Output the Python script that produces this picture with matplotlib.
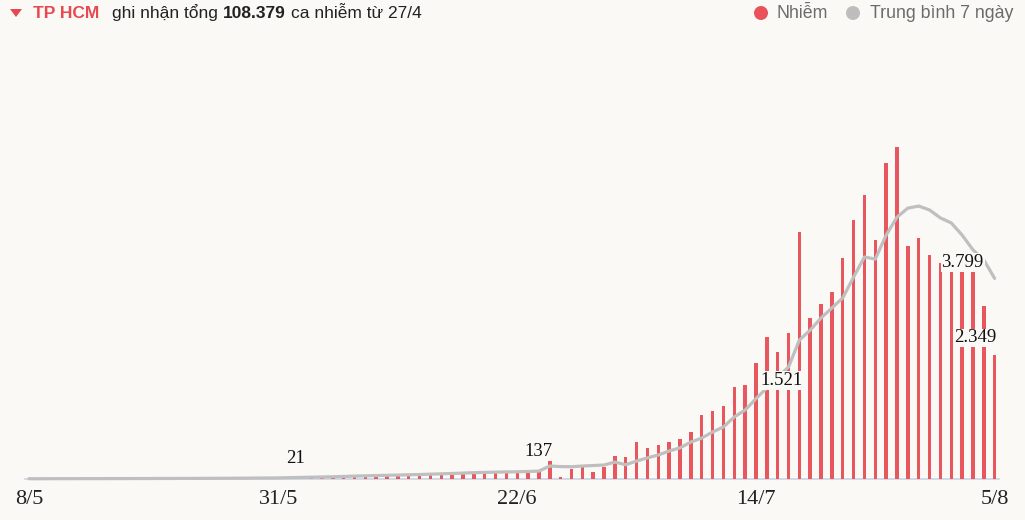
import matplotlib
matplotlib.use('Agg')
import matplotlib.pyplot as plt
from matplotlib.patches import Circle, Polygon

# ---------------- data ----------------
# daily new cases, 8/5 .. 5/8 (90 days)
cases = ([3, 2, 5, 4, 2, 6, 3, 5, 8, 4, 10, 7, 12, 9, 6, 14, 11, 16, 13, 20, 18, 22, 25]
         + [28, 24, 30, 27, 33, 36, 31, 40, 45, 38, 50, 55]
         + [60, 70, 78, 85, 90, 100, 105, 110, 112, 118, 120, 125, 130]
         + [700]
         + [40, 190, 230, 130, 230, 435, 415, 700, 590, 645, 700, 760, 890, 1210,
            1290, 1380, 1740, 1780]
         + [2197, 2690, 2405, 2765, 4678, 3050, 3315, 3540, 4185, 4905, 5380, 4525,
            5985, 6290, 4410, 4565, 4240, 4090, 3995, 4000, 4050, 3275, 2349])

# 7-day average
avg7 = ([5, 5, 6, 6, 6, 7, 7, 7, 8, 8, 9, 9, 10, 10, 11, 11, 12, 13, 14, 15, 16, 18, 19]
        + [21]
        + [26, 30, 34, 38, 42, 48]
        + [55, 60, 65, 70, 75, 80, 85, 92, 98, 105, 112, 120, 125, 130, 134, 137, 142, 150]
        + [246, 235, 232, 246, 255, 265, 320, 270, 340, 400, 455, 530, 590, 700, 775,
           890, 985, 1175, 1305, 1521, 1725, 1930, 2120, 2630, 2820, 3050, 3240, 3430,
           3825, 4205, 4165, 4620, 4960, 5130, 5170, 5095, 4945, 4850, 4620, 4340,
           4150, 3799])

tick_pos = [0, 23, 45, 67, 89]
tick_labels = ['8/5', '31/5', '22/6', '14/7', '5/8']

avg_labels = [(23, '21'), (45, '137'), (67, '1.521'), (89, '3.799')]
bar_labels = [(89, '2.349')]

# ---------------- style ----------------
BG = '#fbf9f6'
RED = '#e8575d'
GREY = '#bfbfbf'
W, H = 1025, 520
PX_DAY = 10.85
PX_VAL = 18.94
X0 = 29
BASE = 479

fig = plt.figure(figsize=(W / 100, H / 100), dpi=100, facecolor=BG)
ax = fig.add_axes([0, 0, 1, 1])
ax.set_facecolor(BG)
ax.axis('off')
ax.set_xlim(-X0 / PX_DAY, (W - X0) / PX_DAY)
ax.set_ylim(-(H - BASE) * PX_VAL, BASE * PX_VAL)

x = list(range(len(cases)))
ax.plot([-0.4, len(cases) - 0.6], [0, 0], color='#c9d4e3', lw=1.2, zorder=1)
ax.bar(x, cases, width=0.32, color=RED, zorder=2)
ax.plot(x, avg7, color=GREY, lw=2.3, zorder=3, solid_joinstyle='round',
        solid_capstyle='round')

pt = 0.72  # points per pixel
for p, lab in zip(tick_pos, tick_labels):
    ax.annotate(lab, xy=(p, 0), xytext=(0, -20 * pt), textcoords='offset points',
                ha='center', va='center', fontsize=16, family='Liberation Serif',
                color='#222222')

offs_avg = {23: (17, 19), 45: (21, 20), 67: (26, 18), 89: (-32, 16)}
for i, lab in avg_labels:
    dx, dy = offs_avg[i]
    ax.annotate(lab, xy=(i, avg7[i]), xytext=(dx * pt, dy * pt), textcoords='offset points',
                ha='center', va='center', fontsize=13.5, family='Liberation Serif',
                color='#111111', zorder=6,
                bbox=dict(boxstyle='square,pad=0.05', fc=BG, ec='none'))
for i, lab in bar_labels:
    ax.annotate(lab, xy=(i, cases[i]), xytext=(-19 * pt, 17 * pt), textcoords='offset points',
                ha='center', va='center', fontsize=13.5, family='Liberation Serif',
                color='#111111', zorder=6,
                bbox=dict(boxstyle='square,pad=0.05', fc=BG, ec='none'))

# ---------------- header ----------------
ty = 1 - 13 / H
tri = Polygon([(10 / 100, (H - 9) / 100), (22 / 100, (H - 9) / 100), (16 / 100, (H - 17) / 100)],
              closed=True, transform=fig.dpi_scale_trans, fc='#e8484f', ec='none')
fig.add_artist(tri)

fig.canvas.draw()
r = fig.canvas.get_renderer()
SANS = 'Liberation Sans'
parts = [('TP HCM', dict(color='#e8484f', fontweight='bold'), 13),
         ('ghi nhận tổng', dict(color='#222222'), 5),
         ('108.379', dict(color='#222222', fontweight='bold'), 5),
         ('ca nhiễm từ 27/4', dict(color='#222222'), 0)]
xp = 33
for s, kw, gap in parts:
    t = fig.text(xp / W, ty, s, ha='left', va='center', fontsize=12.5, family=SANS, **kw)
    bb = t.get_window_extent(renderer=r)
    xp = bb.x1 + gap

# legend
for cx, col in [(761, '#e9525a'), (853, '#bdbdbd')]:
    fig.add_artist(Circle((cx / 100, (H - 13) / 100), 7 / 100, transform=fig.dpi_scale_trans,
                          fc=col, ec='none'))
fig.text(776 / W, ty, 'Nhiễm', ha='left', va='center', fontsize=12.8, family=SANS, color='#6b6b6b')
fig.text(870 / W, ty, 'Trung bình 7 ngày', ha='left', va='center', fontsize=12.8, family=SANS,
         color='#6b6b6b')

fig.savefig('out.png', dpi=100, facecolor=BG)
